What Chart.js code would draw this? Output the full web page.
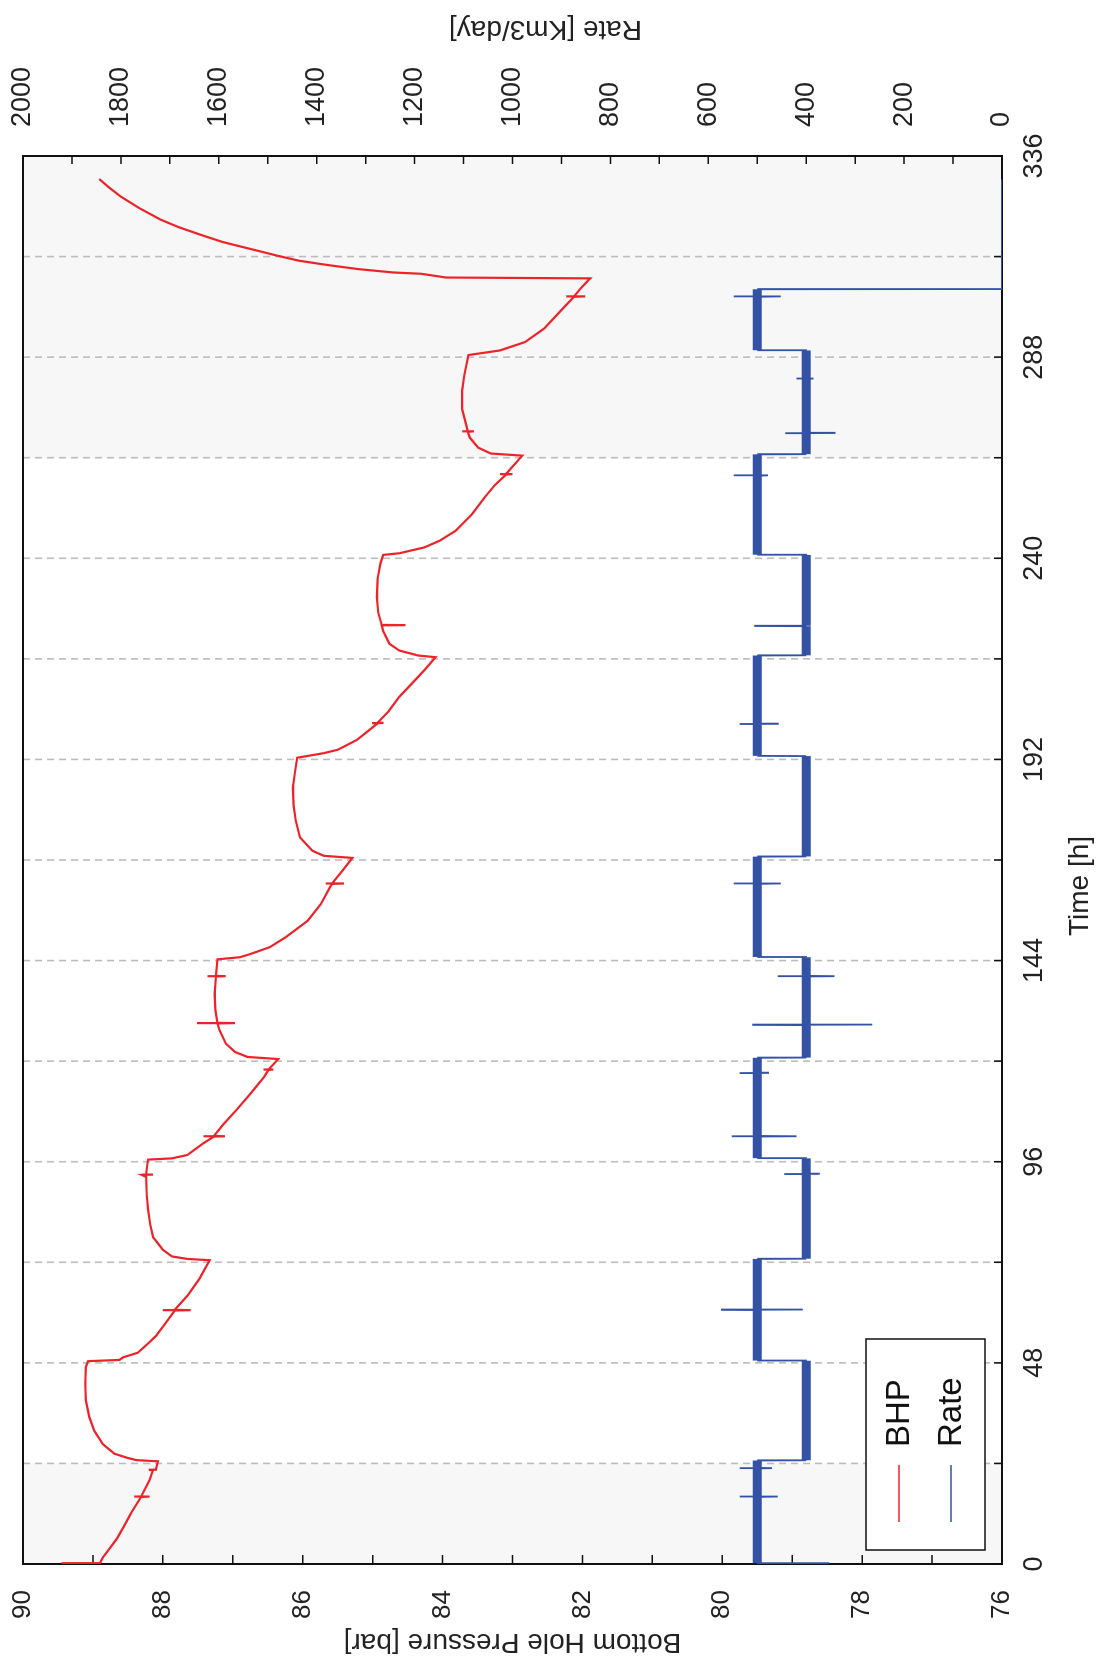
<!DOCTYPE html>
<html>
<head>
<meta charset="utf-8">
<title>BHP and Rate</title>
<script src="https://cdn.jsdelivr.net/npm/chart.js@4.4.0/dist/chart.umd.min.js"></script>
<style>
html, body { margin: 0; padding: 0; background: #fff; overflow: hidden; }
body { width: 1101px; height: 1668px; position: relative; }
/* the chart is drawn landscape and then turned a quarter to the left */
#wrap {
    position: absolute; left: 0; top: 0;
    width: 1668px; height: 1101px;
    transform-origin: 0 0;
    transform: translate(0, 1668px) rotate(-90deg);
}
</style>
</head>
<body>
<div id="wrap"><canvas id="bhpChart" width="1668" height="1101"></canvas></div>
<script>
// Bottom hole pressure [bar] against time [h]
const bhpTime = [
    0, 0.2, 1.5, 3.3, 6, 8.9, 12, 16, 16.05, 16.1, 16.15, 20, 22.4, 22.45, 22.5, 24.5,
    24.8, 25.3, 26.3, 28.6, 31.8, 35, 39, 43, 47, 48.4,
    48.7, 49.3, 50.4, 52.5, 54.4, 57.5, 60.5, 60.55, 60.6, 60.65, 64, 68, 72.5,
    72.8, 73.4, 75, 78, 81, 84.5, 88, 92.4, 92.85, 92.9, 92.95, 95.6, 96.5,
    96.8, 97.6, 100.4, 102, 102.05, 102.1, 102.15, 105, 108.3, 112, 116.3, 117.9, 117.95, 118, 118.05, 120.5,
    121, 122.2, 124.2, 127.4, 129, 129.05, 129.1, 129.15, 132.2, 136, 140.2, 140.25, 140.3, 140.35, 144.3,
    144.8, 145.6, 147.2, 149.6, 153.5, 157.5, 161.5, 162.3, 162.35, 162.4, 162.45, 165.5, 168.5,
    169, 170.2, 173.4, 177.4, 181, 185.3, 189, 192.4,
    193.5, 194.3, 196.7, 200.6, 200.65, 200.7, 200.75, 203.5, 206.9, 210.8, 213.5, 216.4,
    216.8, 218, 219.6, 222.7, 224, 224.05, 224.1, 227, 230.7, 235, 238.7, 240.8,
    241.2, 242.6, 244.2, 246.6, 250.5, 254.5, 257.5, 260, 260.05, 260.1, 260.15, 264.5,
    265, 266.4, 268.8, 270.2, 270.25, 270.3, 270.35, 275.6, 280, 283.6, 288.5,
    289.6, 291.6, 294.8, 299.6, 302.4, 302.45, 302.5, 302.55, 304.5, 306.8,
    307, 307.9, 308.2, 309, 310, 311, 312.2, 313, 314.2, 315.5, 317.2, 319, 320.8, 323.5, 326.3, 328.5, 330.5
];
const bhpValue = [
    89.45, 88.90, 88.86, 88.78, 88.66, 88.56, 88.46, 88.31, 88.41, 88.19, 88.31, 88.19, 88.14, 88.20, 88.10, 88.07,
    88.38, 88.50, 88.69, 88.86, 88.98, 89.05, 89.10, 89.11, 89.10, 89.07,
    88.62, 88.57, 88.36, 88.22, 88.10, 87.96, 87.83, 88.00, 87.60, 87.83, 87.65, 87.48, 87.33,
    87.65, 87.87, 88.00, 88.14, 88.18, 88.21, 88.23, 88.24, 88.30, 88.14, 88.24, 88.22, 88.21,
    87.87, 87.65, 87.42, 87.27, 87.42, 87.11, 87.27, 87.13, 86.95, 86.76, 86.55, 86.49, 86.56, 86.42, 86.49, 86.35,
    86.79, 86.97, 87.10, 87.19, 87.22, 87.51, 86.97, 87.22, 87.25, 87.26, 87.24, 87.36, 87.10, 87.24, 87.22,
    86.90, 86.74, 86.47, 86.24, 85.93, 85.74, 85.61, 85.58, 85.67, 85.41, 85.58, 85.43, 85.29,
    85.70, 85.86, 86.04, 86.10, 86.13, 86.14, 86.11, 86.08,
    85.70, 85.50, 85.22, 84.93, 85.01, 84.86, 84.93, 84.77, 84.62, 84.40, 84.25, 84.10,
    84.35, 84.62, 84.76, 84.85, 84.87, 84.53, 84.87, 84.92, 84.94, 84.93, 84.89, 84.85,
    84.62, 84.26, 84.04, 83.81, 83.58, 83.40, 83.25, 83.09, 83.18, 83.00, 83.09, 82.86,
    83.31, 83.49, 83.61, 83.64, 83.72, 83.55, 83.64, 83.72, 83.72, 83.69, 83.63,
    83.18, 82.82, 82.55, 82.28, 82.12, 82.23, 81.96, 82.12, 82.02, 81.89,
    83.95, 84.31, 84.70, 85.20, 85.65, 86.05, 86.36, 86.55, 86.84, 87.15, 87.46, 87.77, 88.03, 88.33, 88.60, 88.77, 88.91
];

// Gas rate [Km3/day] against time [h]
const rateTime = [
    0, 0.2, 16, 16.05, 16.1, 16.15, 22.8, 22.85, 22.9, 22.95, 24.7,
    24.75, 48.5,
    48.55, 60.6, 60.65, 60.7, 60.75, 72.8,
    72.85, 93, 93.05, 93.1, 93.15, 96.8,
    96.85, 102, 102.05, 102.1, 102.15, 117.1, 117.15, 117.2, 117.25, 120.8,
    120.85, 128.6, 128.65, 128.7, 128.75, 140.2, 140.25, 140.3, 140.35, 144.8,
    144.85, 162.3, 162.35, 162.4, 162.45, 168.8,
    168.85, 192.8,
    192.85, 200.4, 200.45, 200.5, 200.55, 216.8,
    216.85, 223.8, 223.85, 223.9, 240.8,
    240.85, 259.7, 259.75, 259.8, 259.85, 264.8,
    264.85, 269.8, 269.85, 269.9, 269.95, 282.8, 282.85, 282.9, 282.95, 289.6,
    289.65, 302.4, 302.45, 302.5, 302.55, 304.2,
    304.25, 330.4
];
const rateValue = [
    355, 500, 500, 536, 458, 500, 500, 536, 470, 500, 500,
    400, 400,
    500, 500, 574, 407, 500, 500,
    400, 400, 445, 374, 400, 400,
    500, 500, 552, 420, 500, 500, 536, 478, 500, 500,
    400, 400, 510, 265, 400, 400, 458, 342, 400, 400,
    500, 500, 548, 452, 500, 500,
    400, 400,
    500, 500, 536, 458, 500, 500,
    400, 400, 506, 400, 400,
    500, 500, 548, 478, 500, 500,
    400, 400, 443, 342, 400, 400, 420, 385, 400, 400,
    500, 500, 548, 452, 500, 500,
    0, 0
];

// axes
const timeLabels = [0, 48, 96, 144, 192, 240, 288, 336];
const timeTickMarks = [0, 24, 48, 72, 96, 120, 144, 168, 192, 216, 240, 264, 288, 312, 336];
const bhpLabels = [76, 78, 80, 82, 84, 86, 88, 90];
const bhpTickMarks = [76, 77, 78, 79, 80, 81, 82, 83, 84, 85, 86, 87, 88, 89, 90];
const rateLabels = [0, 200, 400, 600, 800, 1000, 1200, 1400, 1600, 1800, 2000];
const rateTickMarks = [0, 100, 200, 300, 400, 500, 600, 700, 800, 900, 1000,
    1100, 1200, 1300, 1400, 1500, 1600, 1700, 1800, 1900, 2000];

// shut-in periods shaded, rate changes marked with dashed lines
const shadedSpans = [[0, 24], [264, 336]];
const dashTimes = [24, 48, 72, 96, 120, 144, 168, 192, 216, 240, 264, 288, 312];

const FONT = "'Liberation Sans', Arial, sans-serif";
const RED = '#ee2229';
const BLUE = '#3352a6';

function toPoints(xs, ys) {
    return xs.map((t, i) => ({ x: t, y: ys[i] }));
}

// fixed axis sizes, no extra padding from the end labels
function fixSize(size, vertical) {
    return s => {
        if (vertical) s.width = size; else s.height = size;
        s.paddingTop = 0; s.paddingBottom = 0;
        s.paddingLeft = 0; s.paddingRight = 0;
    };
}

// background shading, grid, frame and inward tick marks
const framePlugin = {
    id: 'framePlugin',
    beforeDatasetsDraw(chart) {
        const { ctx, chartArea: a, scales } = chart;
        const x = scales.x, yb = scales.yBhp, yr = scales.yRate;
        ctx.save();

        ctx.fillStyle = '#f7f7f7';
        shadedSpans.forEach(([s, e]) => {
            const x0 = x.getPixelForValue(s), x1 = x.getPixelForValue(e);
            ctx.fillRect(x0, a.top, x1 - x0, a.bottom - a.top);
        });

        ctx.strokeStyle = '#bcbcbc';
        ctx.lineWidth = 1.6;
        ctx.setLineDash([7, 5]);
        dashTimes.forEach(t => {
            const px = x.getPixelForValue(t);
            ctx.beginPath();
            ctx.moveTo(px, a.top);
            ctx.lineTo(px, a.bottom);
            ctx.stroke();
        });
        ctx.setLineDash([]);

        ctx.strokeStyle = '#111';
        ctx.lineWidth = 2;
        ctx.strokeRect(a.left, a.top, a.right - a.left, a.bottom - a.top);

        ctx.lineWidth = 1.5;
        ctx.beginPath();
        bhpTickMarks.forEach(v => {
            const py = yb.getPixelForValue(v);
            ctx.moveTo(a.left, py); ctx.lineTo(a.left + 9, py);
        });
        rateTickMarks.forEach(v => {
            const py = yr.getPixelForValue(v);
            ctx.moveTo(a.right, py); ctx.lineTo(a.right - 8, py);
        });
        timeTickMarks.forEach(v => {
            const px = x.getPixelForValue(v);
            ctx.moveTo(px, a.bottom); ctx.lineTo(px, a.bottom - 8);
        });
        ctx.stroke();
        ctx.restore();
    },
    afterDraw(chart) {
        const { ctx, chartArea: a } = chart;
        const midV = (a.top + a.bottom) / 2;
        const midU = (a.left + a.right) / 2;
        ctx.save();
        ctx.fillStyle = '#222';
        ctx.font = '28px ' + FONT;
        ctx.textAlign = 'center';
        ctx.textBaseline = 'middle';

        // axis titles (both y titles read upwards)
        ctx.save();
        ctx.translate(26, midV);
        ctx.rotate(-Math.PI / 2);
        ctx.fillText('Bottom Hole Pressure [bar]', 0, 0);
        ctx.restore();

        ctx.save();
        ctx.translate(chart.width - 29, midV + 33);
        ctx.rotate(-Math.PI / 2);
        ctx.fillText('Rate [Km3/day]', 0, 0);
        ctx.restore();

        ctx.fillText('Time [h]', midU - 26, chart.height - 21);

        // legend box in the lower left corner
        const left = a.left + 14, right = a.left + 225;
        const top = a.bottom - 136, bottom = a.bottom - 17;
        ctx.fillStyle = '#fff';
        ctx.fillRect(left, top, right - left, bottom - top);
        ctx.strokeStyle = '#111';
        ctx.lineWidth = 1.5;
        ctx.strokeRect(left, top, right - left, bottom - top);

        const rows = [top + 33, top + 85];
        chart.data.datasets.forEach((ds, i) => {
            ctx.strokeStyle = ds.borderColor;
            ctx.lineWidth = 1.5;
            ctx.beginPath();
            ctx.moveTo(left + 28, rows[i]);
            ctx.lineTo(left + 85, rows[i]);
            ctx.stroke();
            ctx.fillStyle = '#111';
            ctx.font = '33px ' + FONT;
            ctx.textAlign = 'left';
            ctx.fillText(ds.label, left + 103, rows[i] + 1);
        });
        ctx.restore();
    }
};

const ctx = document.getElementById('bhpChart').getContext('2d');
new Chart(ctx, {
    type: 'line',
    data: {
        datasets: [{
            label: 'BHP',
            data: toPoints(bhpTime, bhpValue),
            yAxisID: 'yBhp',
            borderColor: RED,
            borderWidth: 2.2,
            pointRadius: 0,
            tension: 0,
            fill: false
        }, {
            label: 'Rate',
            data: toPoints(rateTime, rateValue),
            yAxisID: 'yRate',
            borderColor: BLUE,
            borderWidth: 1.8,
            pointRadius: 0,
            tension: 0,
            fill: false,
            // noisy flowing periods show up as a thick band
            segment: {
                borderWidth: c => (c.p0.parsed.y === c.p1.parsed.y && c.p0.parsed.y > 0) ? 9 : 1.8
            }
        }]
    },
    options: {
        responsive: false,
        animation: false,
        layout: { padding: { top: 23, left: 0, right: 0, bottom: 0 } },
        scales: {
            x: {
                type: 'linear',
                min: 0,
                max: 336,
                afterBuildTicks: s => { s.ticks = timeLabels.map(v => ({ value: v })); },
                afterFit: fixSize(99, false),
                grid: { display: false, drawTicks: false },
                border: { display: false },
                ticks: {
                    color: '#222', padding: 16, maxRotation: 0,
                    font: { family: FONT, size: 27 },
                    callback: v => String(v)
                }
            },
            yBhp: {
                type: 'linear',
                position: 'left',
                min: 76,
                max: 90,
                afterBuildTicks: s => { s.ticks = bhpLabels.map(v => ({ value: v })); },
                afterFit: fixSize(104, true),
                grid: { display: false, drawTicks: false },
                border: { display: false },
                ticks: {
                    color: '#222', padding: 26,
                    font: { family: FONT, size: 26 },
                    callback: v => String(v)
                }
            },
            yRate: {
                type: 'linear',
                position: 'right',
                min: 0,
                max: 2000,
                afterBuildTicks: s => { s.ticks = rateLabels.map(v => ({ value: v })); },
                afterFit: fixSize(156, true),
                grid: { display: false, drawTicks: false },
                border: { display: false },
                ticks: {
                    color: '#222', padding: 29,
                    font: { family: FONT, size: 27 },
                    callback: v => String(v)
                }
            }
        },
        plugins: {
            legend: { display: false },
            tooltip: { enabled: false }
        }
    },
    plugins: [framePlugin]
});
</script>
</body>
</html>
